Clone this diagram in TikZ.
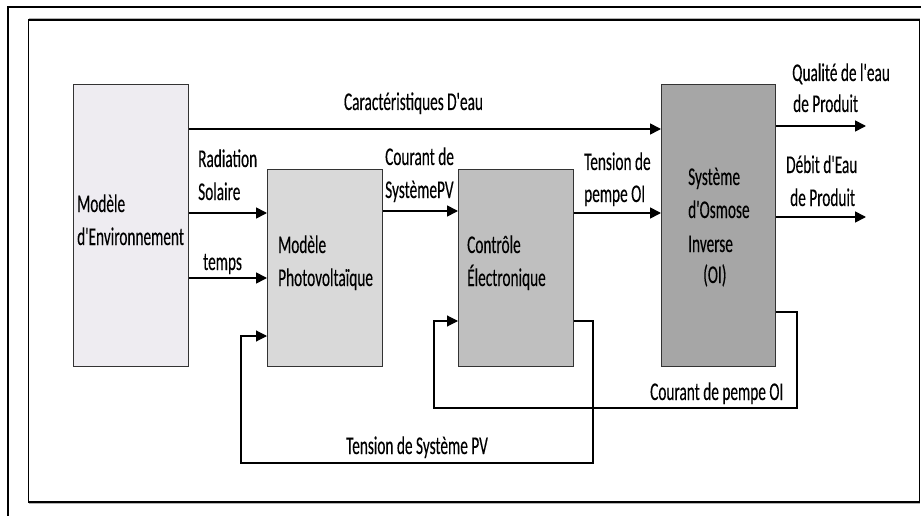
\documentclass[tikz,border=0pt]{standalone}
\usepackage{fontspec}
\setmainfont{Carlito}[FakeStretch=0.6, Ligatures=TeXOff, FakeBold=0.25]
\usetikzlibrary{arrows.meta}
\begin{document}
\begin{tikzpicture}[x=1pt,y=-1pt,
  blk/.style={draw=black!80, line width=1.4pt, anchor=north west, inner sep=0pt},
  tip/.style={-{Triangle[length=11pt,width=11pt]}},
  arr/.style={line width=1.7pt, tip},
  fb/.style={line width=1.1pt},
  lbl/.style={anchor=base west, inner sep=0pt, font=\fontsize{25.5}{30}\selectfont},
]
\useasboundingbox (0,0) rectangle (921,516);
\fill[white] (0,0) rectangle (921,516);

% outer and inner frames
\draw[line width=2pt] (7.5,516) -- (7.5,7.5) -- (921,7.5);
\draw[gray!60, line width=1pt] (28.5,18.5) -- (919.5,18.5);
\draw[gray!60, line width=1pt] (28.5,503.5) -- (919.5,503.5);
\draw[line width=1.5pt] (28.5,20) rectangle (919.5,502);

% blocks
\node[blk, fill={rgb,255:red,238;green,236;blue,241}, minimum width=115pt, minimum height=282pt] (env) at (73,84) {};
\node[blk, fill={rgb,255:red,217;green,217;blue,217}, minimum width=115pt, minimum height=197pt] (pv) at (267,169) {};
\node[blk, fill={rgb,255:red,191;green,191;blue,191}, minimum width=115pt, minimum height=197pt] (ctl) at (458,169) {};
\node[blk, fill={rgb,255:red,166;green,166;blue,166}, minimum width=114pt, minimum height=282pt] (ro) at (661,84) {};

% block texts
\node[lbl] (t1) at (77,212) {Modèle};
\node[lbl] (t2) at (77,245) {d'Environnement};
\node[lbl] (t3) at (278,253) {Modèle};
\node[lbl] (t4) at (278,286) {Photovoltaïque};
\node[lbl] (t5) at (467,253) {Contrôle};
\node[lbl] (t6) at (467,286) {Électronique};
\node[lbl] (t7) at (688,185) {Système};
\node[lbl] (t8) at (688,218) {d'Osmose};
\node[lbl] (t9) at (688,252) {Inverse};
\node[lbl] (t10) at (703,283) {(OI)};

% forward signals
\draw[arr] (env.east |- 0,129) -- (ro.west |- 0,129);
\draw[arr] (env.east |- 0,213) -- (pv.west |- 0,213);
\draw[arr] (env.east |- 0,278) -- (pv.west |- 0,278);
\draw[arr] (pv.east |- 0,211) -- (ctl.west |- 0,211);
\draw[arr] (ctl.east |- 0,213) -- (ro.west |- 0,213);
\coordinate (q) at (866,126);
\coordinate (d) at (866,217);
\draw[arr] (ro.east |- q) -- (q);
\draw[arr] (ro.east |- d) -- (d);

% feedback loops
\coordinate (pvr) at (593,463);
\coordinate (pvl) at (241,463);
\draw[fb, tip] (ctl.east |- 0,321) -| (pvr) -- (pvl) |- (pv.west |- 0,336);
\coordinate (oir) at (797,408);
\coordinate (oil) at (434,408);
\draw[fb, tip] (ro.east |- 0,312) -| (oir) -- (oil) |- (ctl.west |- 0,321);

% signal labels
\node[lbl, anchor=base] (l1) at (413.5,110) {Caractéristiques D'eau};
\node[lbl] (l2) at (198,167) {Radiation};
\node[lbl] (l3) at (198,200) {Solaire};
\node[lbl] (l4) at (203,270) {temps};
\node[lbl] (l5) at (385,165) {Courant de};
\node[lbl] (l6) at (385,198) {SystèmePV};
\node[lbl] (l7) at (584,170) {Tension de};
\node[lbl] (l8) at (584,202) {pempe OI};
\node[lbl] (l9) at (792,81) {Qualité de l'eau};
\node[lbl] (l10) at (793,112) {de Produit};
\node[lbl] (l11) at (786,173) {Débit d'Eau};
\node[lbl] (l12) at (790,206) {de Produit};
\node[lbl] (l13) at (650,400) {Courant de pempe OI};
\node[lbl, anchor=base] (l14) at (417,454) {Tension de Système PV};
\end{tikzpicture}
\end{document}
